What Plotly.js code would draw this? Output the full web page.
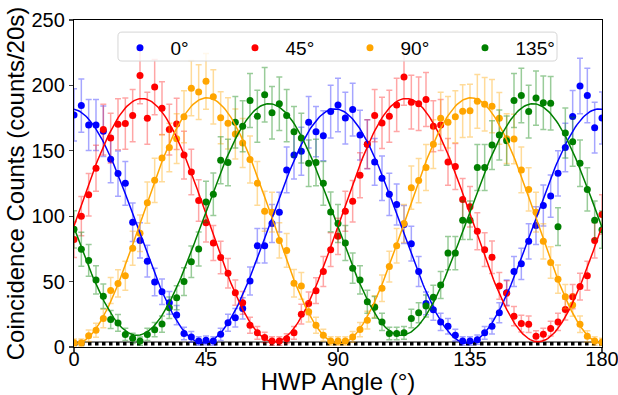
<!DOCTYPE html>
<html>
<head>
<meta charset="utf-8">
<script src="https://cdn.plot.ly/plotly-3.0.1.min.js"></script>
<style>html,body{margin:0;padding:0;background:#fff;}#chart{width:618px;height:395px;}</style>
</head>
<body>
<div id="chart"></div>
<script>
// HWP angles (degrees)
const angles = [0,2.5,5,7.5,10,12.5,15,17.5,20,22.5,25,27.5,30,32.5,35,37.5,40,42.5,45,47.5,50,52.5,55,57.5,60,62.5,65,67.5,70,72.5,75,77.5,80,82.5,85,87.5,90,92.5,95,97.5,100,102.5,105,107.5,110,112.5,115,117.5,120,122.5,125,127.5,130,132.5,135,137.5,140,142.5,145,147.5,150,152.5,155,157.5,160,162.5,165,167.5,170,172.5,175,177.5,180];

// Coincidence counts per polarizer setting
const counts0 = [177.4,184.6,169.7,169.7,165,143.6,132.6,125.1,95.4,81.5,65.6,49.7,42.3,33.8,24.4,10.3,7.7,4.6,5.1,4.6,9.7,18.5,22.3,29.5,50.5,77.4,77.4,94.4,103.1,135.4,146.7,149.7,171.8,164.6,161.5,180,185,175,181.5,162,155,141.5,129,116.7,109,93.6,79,57.7,33.3,28.5,19.2,15.9,9,4.6,4.6,5.6,10.8,15.9,26.2,41.5,57.7,63.6,80.8,92.8,108.2,115.4,132.8,152.6,176.2,199.5,192.3,167.7,175.1];
const counts45 = [82.1,100,116.4,136.7,166.2,159.7,170.3,170.8,176.9,207.5,174.9,198.7,182.6,166.2,170.5,146.7,133.8,112,94.9,79.5,68.5,56.4,41.5,33.8,16.7,10.8,7.2,4.6,4.6,6.4,10.8,25.1,33.3,43.1,57.7,74.4,84.6,103.8,111.5,131.3,155.1,176.9,171.3,176.4,185.1,206.4,187.2,185.9,189.2,168.7,169.7,141.5,138,112.8,107.2,88.5,74.4,68.7,46.7,41,23.6,17.9,17.4,8.2,9.7,14.1,19.2,28.7,38.5,46.2,54.4,81.5,101.3];
const counts90 = [3.3,3.3,8.6,12.8,21.8,43.2,48.6,54.4,75.5,87,110.3,127.4,144.4,152.6,159.3,176,197.9,194.9,203.1,191.3,175.3,171,162.8,155.9,143.3,125.1,103.8,103.1,81.5,73.8,48.7,46.7,26.9,16.7,9,4.6,4.6,4.6,7.7,13.3,20.5,30.8,44.9,61.5,77.4,94.4,121.8,127.2,137.2,155.1,174.9,171.8,176,180.3,180.7,187.8,185.6,184.1,174.8,159.3,159,135.4,120.5,103.1,80.8,64.6,51.8,38.5,32.1,17.4,8.2,4.6,3.8];
const counts135 = [90,74.7,66.2,51.3,38.8,21,18.4,9.6,6.6,4.5,9.6,13.2,17.5,30,37.7,50,65.2,74.9,110.9,116.8,142.8,141,171.8,168.7,188.5,176.4,192.8,179,185.9,176.9,164.6,159.7,140.5,141,125.1,103.3,94.4,79.5,60.3,51.3,34.6,30.3,19.2,10.3,10.3,10.8,21.8,26.2,31.3,38,47.4,71.8,71.8,96.9,96.9,137.2,137.2,154.4,162.1,157.7,188.5,192.3,180,190.3,186.7,186.4,92,163.6,156.9,140.5,120.5,96.9,89.7];
// Accidental coincidences
const accidentals = [2.5,2.5,2.5,2.5,2.5,2.5,2.5,2.5,2.5,2.5,2.5,2.5,2.5,2.5,2.5,2.5,2.5,2.5,2.5,2.5,2.5,2.5,2.5,2.5,2.5,2.5,2.5,2.5,2.5,2.5,2.5,2.5,2.5,2.5,2.5,2.5,2.5,2.5,2.5,2.5,2.5,2.5,2.5,2.5,2.5,2.5,2.5,2.5,2.5,2.5,2.5,2.5,2.5,2.5,2.5,2.5,2.5,2.5,2.5,2.5,2.5,2.5,2.5,2.5,2.5,2.5,2.5,2.5,2.5,2.5,2.5,2.5,2.5];

// Fit parameters: y = offset + amplitude * cos^2(2*(theta - phase))
const seriesNames = ['0°','45°','90°','135°'];
const seriesColors = ['#0000ff','#ff0000','#ffa500','#008000'];
const errColors = ['rgba(0,0,255,0.35)','rgba(255,0,0,0.35)','rgba(255,165,0,0.4)','rgba(0,128,0,0.4)'];
const fitOffset = [3, 4, 2.5, 9];
const fitAmplitude = [179, 186, 188, 177];
const fitPhase = [-1, 23.2, 45.3, 66.5];
const errScale = 1.5; // Poisson-like error bars

const xTicks = [0,45,90,135,180];
const yTicks = [0,50,100,150,200,250];

const allCounts = [counts0, counts45, counts90, counts135];
const traces = [];

// accidentals (black dotted band)
traces.push({x: angles, y: accidentals, mode:'lines', line:{color:'#000', width:3.5, dash:'dot'}, showlegend:false, hoverinfo:'skip'});
traces.push({x: angles, y: accidentals.map(v=>v+1.3), mode:'lines', line:{color:'#000', width:1}, showlegend:false, hoverinfo:'skip'});

const fineTheta = [];
for (let t = 0; t <= 180; t += 0.5) fineTheta.push(t);

allCounts.forEach((c, i) => {
  traces.push({
    x: angles, y: c, mode:'markers', name: '\u00a0\u00a0' + seriesNames[i],
    marker:{color: seriesColors[i], size:7},
    error_y:{type:'data', array: c.map(v => errScale*Math.sqrt(v)), visible:true, color: errColors[i], thickness:1.5, width:3},
  });
});
allCounts.forEach((c, i) => {
  traces.push({
    x: fineTheta,
    y: fineTheta.map(t => fitOffset[i] + fitAmplitude[i]*Math.pow(Math.cos(2*(t-fitPhase[i])*Math.PI/180),2)),
    mode:'lines', line:{color: seriesColors[i], width:1.5}, showlegend:false, hoverinfo:'skip'
  });
});

// Legend frame (rounded box) in paper coordinates
const bx0 = 0.0833, bx1 = 0.9148, by0 = 0.8745, by1 = 0.963, rx = 0.0076, ry = 0.0122;
const boxPath = `M ${bx0+rx},${by1} L ${bx1-rx},${by1} Q ${bx1},${by1} ${bx1},${by1-ry} L ${bx1},${by0+ry} Q ${bx1},${by0} ${bx1-rx},${by0} L ${bx0+rx},${by0} Q ${bx0},${by0} ${bx0},${by0+ry} L ${bx0},${by1-ry} Q ${bx0},${by1} ${bx0+rx},${by1} Z`;

const font = {family:'"Liberation Sans", Arial, sans-serif', color:'#000'};
const layout = {
  width:618, height:395,
  margin:{l:74, r:16, t:20, b:48},
  paper_bgcolor:'#fff', plot_bgcolor:'#fff',
  font: Object.assign({size:20}, font),
  showlegend:true,
  shapes:[{type:'path', xref:'paper', yref:'paper', path: boxPath, layer:'above',
    fillcolor:'rgba(255,255,255,0.8)', line:{color:'#d6d6d6', width:1}}],
  legend:{orientation:'h', x:0.0871, xanchor:'left', y:0.973, yanchor:'top',
    entrywidth:70, entrywidthmode:'pixels',
    bgcolor:'rgba(0,0,0,0)', borderwidth:0,
    font: Object.assign({size:19}, font), itemsizing:'trace'},
  xaxis:{range:[0,180], tickvals:xTicks, ticktext:xTicks.map(String), ticks:'outside', ticklen:4, tickwidth:1.2,
    showline:true, linecolor:'#000', linewidth:1.2, mirror:true, showgrid:false, zeroline:false,
    ticklabeloverflow:'allow', ticklabelstandoff:-10,
    tickfont:Object.assign({size:20}, font),
    title:{text:'HWP Angle (°)', font:Object.assign({size:24}, font), standoff:6}},
  yaxis:{range:[0,250], tickvals:yTicks, ticktext:yTicks.map(String), ticks:'outside', ticklen:4, tickwidth:1.2,
    showline:true, linecolor:'#000', linewidth:1.2, mirror:true, showgrid:false, zeroline:false,
    tickfont:Object.assign({size:20}, font),
    title:{text:'Coincidence Counts (counts/20s)', font:Object.assign({size:24}, font), standoff:0}}
};
Plotly.newPlot('chart', traces, layout, {staticPlot:true, displayModeBar:false});
</script>
</body>
</html>
